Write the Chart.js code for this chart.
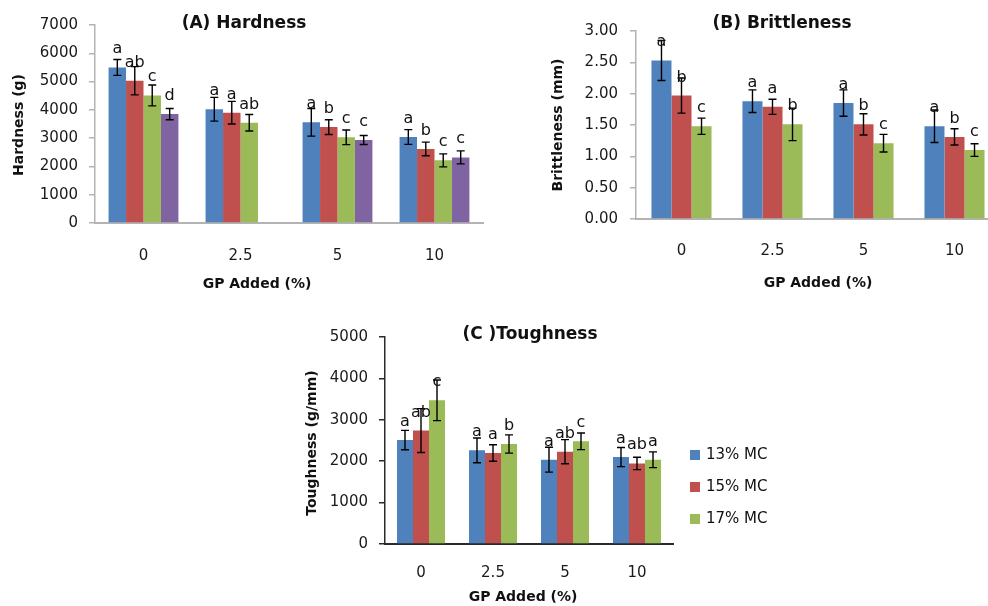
<!DOCTYPE html>
<html><head><meta charset="utf-8">
<script src="https://cdn.jsdelivr.net/npm/chart.js@4"></script>
<style>
html,body{margin:0;padding:0;background:#fff;overflow:hidden;width:988px;height:606px;position:relative;}
canvas{position:absolute;display:block;}
</style></head><body>
<canvas id="cA" width="500" height="300" style="left:0;top:0"></canvas>
<canvas id="cB" width="480" height="300" style="left:530px;top:0"></canvas>
<canvas id="cC" width="490" height="296" style="left:300px;top:310px"></canvas>
<script>
// ---------- data ----------
const categories = ['0', '2.5', '5', '10'];
const seriesNames = ['13% MC', '15% MC', '17% MC', 'Series 4'];

// (A) Hardness (g)
const hardness13 = [5500, 4020, 3560, 3040];
const hardness15 = [5030, 3900, 3390, 2620];
const hardness17 = [4510, 3545, 3030, 2215];
const hardness4  = [3850, null, 2935, 2320];
const hardnessErr13 = [280, 420, 490, 260];
const hardnessErr15 = [500, 400, 260, 240];
const hardnessErr17 = [370, 290, 260, 230];
const hardnessErr4  = [200, null, 160, 230];
const hardnessLet13 = ['a', 'a', 'a', 'a'];
const hardnessLet15 = ['ab', 'a', 'b', 'b'];
const hardnessLet17 = ['c', 'ab', 'c', 'c'];
const hardnessLet4  = ['d', '', 'c', 'c'];
const hardnessTicks = [0, 1000, 2000, 3000, 4000, 5000, 6000, 7000];

// (B) Brittleness (mm)
const brittle13 = [2.53, 1.88, 1.85, 1.48];
const brittle15 = [1.97, 1.79, 1.51, 1.31];
const brittle17 = [1.48, 1.51, 1.21, 1.10];
const brittleErr13 = [0.32, 0.18, 0.21, 0.26];
const brittleErr15 = [0.28, 0.12, 0.17, 0.13];
const brittleErr17 = [0.13, 0.26, 0.14, 0.10];
const brittleLet13 = ['a', 'a', 'a', 'a'];
const brittleLet15 = ['b', 'a', 'b', 'b'];
const brittleLet17 = ['c', 'b', 'c', 'c'];
const brittleTicks = [0, 0.5, 1, 1.5, 2, 2.5, 3];

// (C) Toughness (g/mm)
const tough13 = [2510, 2262, 2036, 2100];
const tough15 = [2740, 2197, 2230, 1947];
const tough17 = [3470, 2415, 2480, 2036];
const toughErr13 = [235, 300, 300, 230];
const toughErr15 = [530, 200, 290, 150];
const toughErr17 = [490, 220, 200, 190];
const toughLet13 = ['a', 'a', 'a', 'a'];
const toughLet15 = ['ab', 'a', 'ab', 'ab'];
const toughLet17 = ['c', 'b', 'c', 'a'];
const toughTicks = [0, 1000, 2000, 3000, 4000, 5000];

// ---------- styles ----------
const COLORS = ['#4F81BD', '#C0504D', '#9BBB59', '#8064A2'];
const FONT = '"DejaVu Sans", sans-serif';
Chart.defaults.font.family = FONT;
Chart.defaults.color = '#1a1a1a';

const decor = {
  id: 'decor',
  afterDatasetsDraw(chart, args, o) {
    const ctx = chart.ctx;
    const yS = chart.scales.y;
    chart.data.datasets.forEach((ds, i) => {
      const meta = chart.getDatasetMeta(i);
      meta.data.forEach((bar, j) => {
        const v = ds.data[j];
        if (v == null) return;
        const e = ds.errors[j];
        const yt = yS.getPixelForValue(v + e), yb = yS.getPixelForValue(v - e);
        ctx.save();
        ctx.strokeStyle = '#000';
        ctx.lineWidth = 1.4;
        ctx.beginPath();
        ctx.moveTo(bar.x, yt); ctx.lineTo(bar.x, yb);
        ctx.moveTo(bar.x - 4, yt); ctx.lineTo(bar.x + 4, yt);
        ctx.moveTo(bar.x - 4, yb); ctx.lineTo(bar.x + 4, yb);
        ctx.stroke();
        ctx.font = '16px ' + FONT;
        ctx.textAlign = 'center';
        ctx.textBaseline = 'alphabetic';
        ctx.fillStyle = '#111';
        ctx.fillText(ds.letters[j], bar.x, bar.y - 14);
        ctx.restore();
      });
    });
  },
  afterDraw(chart, args, o) {
    const ctx = chart.ctx;
    ctx.save();
    ctx.fillStyle = '#111';
    ctx.textAlign = 'center';
    ctx.textBaseline = 'middle';
    ctx.font = 'bold 17px ' + FONT;
    ctx.fillText(o.title[0], o.title[1], o.title[2]);
    ctx.font = 'bold 14px ' + FONT;
    ctx.fillText(o.xTitle[0], o.xTitle[1], o.xTitle[2]);
    ctx.save();
    ctx.translate(o.yTitle[1], o.yTitle[2]);
    ctx.rotate(-Math.PI / 2);
    ctx.fillText(o.yTitle[0], 0, 0);
    ctx.restore();
    if (o.legend) {
      ctx.textAlign = 'left';
      ctx.font = '15px ' + FONT;
      chart.data.datasets.forEach((ds, i) => {
        const y = o.legend.y + i * o.legend.dy;
        ctx.fillStyle = ds.backgroundColor;
        ctx.fillRect(o.legend.x, y - 5, 10, 10);
        ctx.fillStyle = '#111';
        ctx.fillText(ds.label, o.legend.x + 16, y);
      });
    }
    ctx.restore();
  }
};

function makeChart(id, cfg) {
  const datasets = cfg.series.map((s, i) => ({
    label: seriesNames[i],
    data: s[0], errors: s[1], letters: s[2],
    backgroundColor: COLORS[i],
    borderWidth: 0,
    categoryPercentage: cfg.catPct,
    barPercentage: 1
  }));
  return new Chart(document.getElementById(id), {
    type: 'bar',
    data: { labels: categories, datasets },
    plugins: [decor],
    options: {
      responsive: false,
      animation: false,
      layout: { padding: cfg.pad },
      plugins: {
        legend: { display: false },
        tooltip: { enabled: false },
        decor: cfg.decor
      },
      scales: {
        x: {
          grid: { display: false, drawTicks: false },
          border: { display: true, color: cfg.axisColor, width: 2 },
          ticks: { padding: cfg.xPad, color: '#1a1a1a', font: { size: 15 } },
          afterFit(s) { s.height = cfg.xH; }
        },
        y: {
          min: cfg.ticks[0], max: cfg.ticks[cfg.ticks.length - 1],
          afterBuildTicks(s) { s.ticks = cfg.ticks.map(v => ({ value: v })); },
          grid: { drawOnChartArea: false, drawTicks: true, tickLength: 6, color: cfg.axisColor, lineWidth: 1.5 },
          border: { display: true, color: cfg.axisColor, width: 1.5 },
          ticks: { padding: cfg.yPad, color: '#1a1a1a', font: { size: 15 }, callback: cfg.fmt },
          afterFit(s) { s.width = cfg.yW; }
        }
      }
    }
  });
}

makeChart('cA', {
  series: [
    [hardness13, hardnessErr13, hardnessLet13],
    [hardness15, hardnessErr15, hardnessLet15],
    [hardness17, hardnessErr17, hardnessLet17],
    [hardness4, hardnessErr4, hardnessLet4]
  ],
  catPct: 0.72, ticks: hardnessTicks, fmt: v => String(v),
  pad: { left: 0, right: 17, top: 25, bottom: 0 },
  yW: 95, xH: 77, yPad: 11, xPad: 24, axisColor: '#B3B3B3',
  decor: { title: ['(A) Hardness', 244, 24], xTitle: ['GP Added (%)', 257, 284], yTitle: ['Hardness (g)', 19, 125] }
});

makeChart('cB', {
  series: [
    [brittle13, brittleErr13, brittleLet13],
    [brittle15, brittleErr15, brittleLet15],
    [brittle17, brittleErr17, brittleLet17]
  ],
  catPct: 0.66, ticks: brittleTicks, fmt: v => Number(v).toFixed(2),
  pad: { left: 0, right: 10, top: 31, bottom: 0 },
  yW: 106, xH: 81, yPad: 12, xPad: 23, axisColor: '#B3B3B3',
  decor: { title: ['(B) Brittleness', 252, 24], xTitle: ['GP Added (%)', 288, 283], yTitle: ['Brittleness (mm)', 28, 125] }
});

makeChart('cC', {
  series: [
    [tough13, toughErr13, toughLet13],
    [tough15, toughErr15, toughLet15],
    [tough17, toughErr17, toughLet17]
  ],
  catPct: 0.667, ticks: toughTicks, fmt: v => String(v),
  pad: { left: 0, right: 117, top: 27, bottom: 0 },
  yW: 85, xH: 62, yPad: 11, xPad: 20, axisColor: '#2b2b2b',
  decor: { title: ['(C )Toughness', 230, 25], xTitle: ['GP Added (%)', 223, 287], yTitle: ['Toughness (g/mm)', 12, 133],
           legend: { x: 390, y: 145, dy: 32 } }
});
</script>
</body></html>
